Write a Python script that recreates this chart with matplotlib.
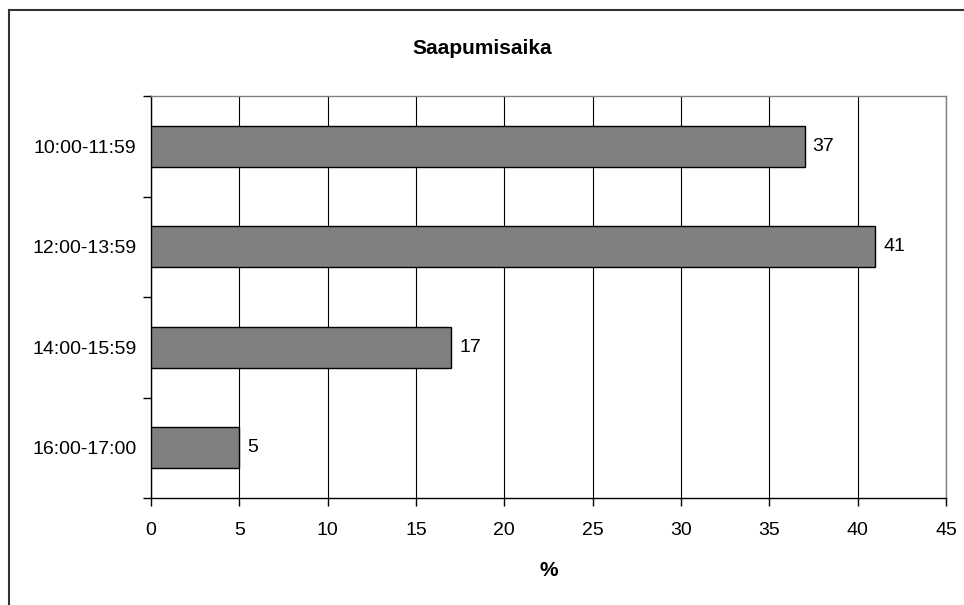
import matplotlib.pyplot as plt
from matplotlib.lines import Line2D

plt.rcParams['font.family'] = ['Liberation Sans', 'DejaVu Sans']

# data
categories = ['10:00-11:59', '12:00-13:59', '14:00-15:59', '16:00-17:00']
values = [37, 41, 17, 5]
x_ticks = [0, 5, 10, 15, 20, 25, 30, 35, 40, 45]

fig = plt.figure(figsize=(9.64, 6.05), dpi=100)
ax = fig.add_axes([151 / 964, 107 / 605, 795 / 964, 402 / 605])

# outer chart frame: only left and top edges fall inside the picture
fx, fy = 9 / 964, 1 - 10 / 605
fig.add_artist(Line2D([fx, fx], [0, fy], transform=fig.transFigure,
                      color='#333333', linewidth=1.5))
fig.add_artist(Line2D([fx, 1], [fy, fy], transform=fig.transFigure,
                      color='#333333', linewidth=1.5))

pos = list(range(len(categories)))
ax.barh(pos, values, height=0.41, color='#808080', edgecolor='black',
        linewidth=1.0, zorder=3)

# value labels
for p, v in zip(pos, values):
    ax.text(v + 0.45, p, str(v), va='center', ha='left', fontsize=14, zorder=4)

ax.set_xlim(0, 45)
ax.set_ylim(len(categories) - 0.5, -0.5)
ax.set_xticks(x_ticks)
ax.set_xticklabels([str(t) for t in x_ticks])
ax.tick_params(axis='x', direction='out', length=6, width=1, pad=11, labelsize=14)

# y ticks at the category borders, labels in the middle
ax.set_yticks([i - 0.5 for i in range(len(categories) + 1)])
ax.set_yticklabels([])
ax.set_yticks(pos, minor=True)
ax.set_yticklabels(categories, minor=True)
ax.tick_params(axis='y', which='major', direction='out', length=6, width=1)
ax.tick_params(axis='y', which='minor', length=0, pad=10.5, labelsize=14)

ax.grid(axis='x', color='black', linewidth=0.8, zorder=0)
ax.spines['left'].set_color('black')
ax.spines['bottom'].set_color('black')
ax.spines['top'].set_color('#808080')
ax.spines['right'].set_color('#808080')
for s in ax.spines.values():
    s.set_linewidth(1.0)

fig.text(482 / 964, 1 - 48 / 605, 'Saapumisaika', ha='center', va='center',
         fontsize=15, fontweight='bold')
ax.set_xlabel('%', fontsize=15, fontweight='bold', labelpad=16)

plt.savefig('out.png', dpi=100)
